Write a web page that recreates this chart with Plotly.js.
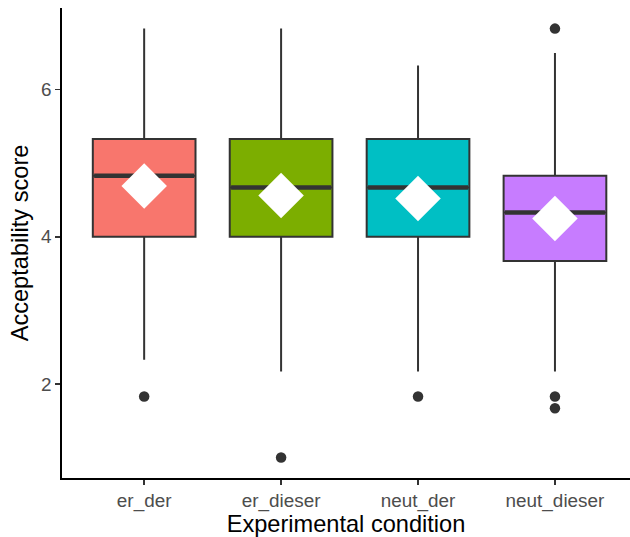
<!DOCTYPE html>
<html>
<head>
<meta charset="utf-8">
<script src="https://cdn.plot.ly/plotly-3.0.1.min.js"></script>
<style>html,body{margin:0;padding:0;background:#fff;}#chart{width:630px;height:537px;}</style>
</head>
<body>
<div id="chart"></div>
<script>
// ---- data ----
var categories = ["er_der", "er_dieser", "neut_der", "neut_dieser"];
var q1Values = [4.0, 4.0, 4.0, 3.67];
var medianValues = [4.83, 4.67, 4.67, 4.33];
var q3Values = [5.33, 5.33, 5.33, 4.83];
var lowerWhisker = [2.33, 2.17, 2.17, 2.17];
var upperWhisker = [6.83, 6.83, 6.33, 6.5];
var meanValues = [4.69, 4.56, 4.52, 4.25];
var outlierCategory = ["er_der", "er_dieser", "neut_der", "neut_dieser", "neut_dieser", "neut_dieser"];
var outlierValues = [1.83, 1.0, 1.83, 6.83, 1.83, 1.67];
var yTickVals = [2, 4, 6];

// ---- styles ----
var fillColors = ["#F8766D", "#7CAE00", "#00BFC4", "#C77CFF"];
var edge = "#333333";
var boxWidth = 0.75;
var font = "Liberation Sans, Arial, Helvetica, sans-serif";

var pos = categories.map(function (c, i) { return i + 1; });
function posOf(c) { return categories.indexOf(c) + 1; }

var traces = [];
categories.forEach(function (c, i) {
  traces.push({
    type: "box",
    x: [pos[i]],
    q1: [q1Values[i]],
    median: [medianValues[i]],
    q3: [q3Values[i]],
    lowerfence: [lowerWhisker[i]],
    upperfence: [upperWhisker[i]],
    boxpoints: false,
    width: boxWidth,
    whiskerwidth: 0,
    fillcolor: fillColors[i],
    line: { color: edge, width: 2 },
    hoverinfo: "skip",
    showlegend: false
  });
  // thicker median line (ggplot fatten)
  traces.push({
    type: "scatter",
    mode: "lines",
    x: [pos[i] - boxWidth / 2 + 0.01, pos[i] + boxWidth / 2 - 0.01],
    y: [medianValues[i], medianValues[i]],
    line: { color: edge, width: 4.5 },
    hoverinfo: "skip",
    showlegend: false
  });
});

traces.push({
  type: "scatter",
  mode: "markers",
  x: outlierCategory.map(posOf),
  y: outlierValues,
  marker: { color: edge, size: 10.5 },
  showlegend: false
});

traces.push({
  type: "scatter",
  mode: "markers",
  x: pos,
  y: meanValues,
  marker: { symbol: "diamond", color: "#ffffff", size: 35, line: { width: 0 } },
  showlegend: false
});

var layout = {
  width: 630,
  height: 537,
  margin: { l: 62, r: 0, t: 8, b: 59 },
  paper_bgcolor: "#ffffff",
  plot_bgcolor: "#ffffff",
  font: { family: font },
  showlegend: false,
  xaxis: {
    range: [0.4, 4.548],
    tickvals: pos,
    ticktext: categories,
    showgrid: false,
    zeroline: false,
    showline: true,
    linecolor: "#000000",
    linewidth: 1.8,
    ticks: "outside",
    ticklen: 5,
    tickwidth: 1.5,
    tickcolor: edge,
    tickfont: { family: font, size: 18.9, color: "#4D4D4D" },
    title: { text: "Experimental condition", font: { family: font, size: 23.6, color: "#000000" }, standoff: 4 }
  },
  yaxis: {
    range: [0.722, 7.11],
    tickvals: yTickVals,
    showgrid: false,
    zeroline: false,
    showline: true,
    linecolor: "#000000",
    linewidth: 1.8,
    ticks: "outside",
    ticklen: 5,
    tickwidth: 1.5,
    tickcolor: edge,
    tickfont: { family: font, size: 18.9, color: "#4D4D4D" },
    title: { text: "Acceptability score", font: { family: font, size: 23.6, color: "#000000" }, standoff: 6 }
  }
};

Plotly.newPlot("chart", traces, layout, { displayModeBar: false, staticPlot: true });
</script>
</body>
</html>
